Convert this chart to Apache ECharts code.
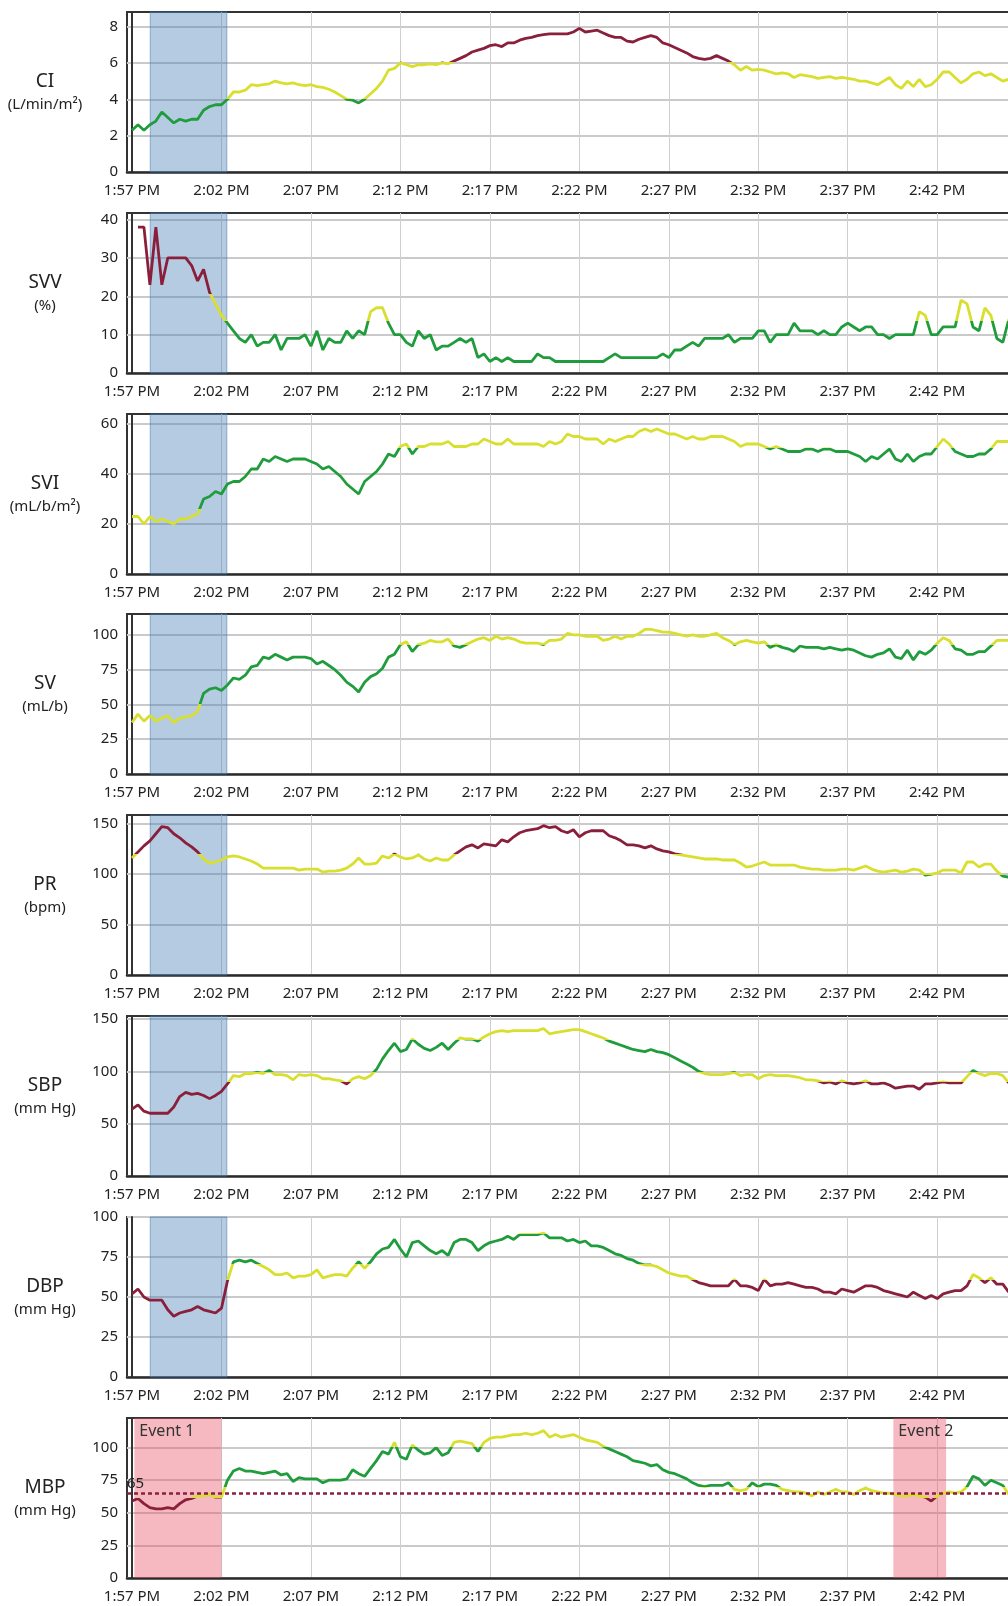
<!DOCTYPE html>
<html>
<head>
<meta charset="utf-8">
<script src="https://cdn.jsdelivr.net/npm/echarts@6/dist/echarts.min.js"></script>
<style>
html, body { margin: 0; padding: 0; background: #fff; }
#main { width: 1008px; height: 1606px; }
</style>
</head>
<body>
<div id="main"></div>
<script>
// x is minutes after 1:57 PM, one sample every 20 s
var tickMinutes = [0, 5, 10, 15, 20, 25, 30, 35, 40, 45];
var tickLabels = ['1:57 PM', '2:02 PM', '2:07 PM', '2:12 PM', '2:17 PM', '2:22 PM', '2:27 PM', '2:32 PM', '2:37 PM', '2:42 PM'];

var ci = [2.3,2.6,2.3,2.6,2.8,3.3,3.0,2.7,2.9,2.8, 2.9,2.9,3.4,3.6,3.7,3.7,4.0,4.4,4.4,4.5,
  4.8,4.75,4.8,4.85,5.0,4.9,4.85,4.9,4.8,4.75, 4.8,4.7,4.65,4.55,4.4,4.2,4.0,3.95,3.8,4.0,
  4.3,4.6,5.0,5.6,5.7,6.0,5.9,5.8,5.9,5.9, 5.95,5.9,6.0,5.95,6.1,6.25,6.4,6.6,6.7,6.8,
  6.95,7.0,6.9,7.1,7.1,7.25,7.35,7.4,7.5,7.55, 7.6,7.6,7.6,7.6,7.7,7.9,7.7,7.75,7.8,7.65,
  7.5,7.4,7.4,7.2,7.15,7.3,7.4,7.5,7.4,7.1, 7.0,6.85,6.7,6.55,6.35,6.25,6.2,6.25,6.4,6.25,
  6.1,5.9,5.6,5.8,5.6,5.65,5.6,5.5,5.4,5.45, 5.4,5.2,5.35,5.3,5.25,5.15,5.2,5.25,5.15,5.2,
  5.15,5.1,5.0,5.0,4.9,4.8,5.0,5.2,4.8,4.6, 5.0,4.7,5.1,4.7,4.8,5.1,5.5,5.5,5.2,4.9,
  5.1,5.4,5.5,5.3,5.4,5.2,5.0,5.1];
var svv = [null,38,38,23,38,23,30,30,30,30, 28,24,27,21,18,15,13,11,9,8,
  10,7,8,8,10,6,9,9,9,10, 7,11,6,9,8,8,11,9,11,10,
  16,17,17,13,10,10,8,7,11,9, 10,6,7,7,8,9,8,9,4,5,
  3,4,3,4,3,3,3,3,5,4, 4,3,3,3,3,3,3,3,3,3,
  4,5,4,4,4,4,4,4,4,5, 4,6,6,7,8,7,9,9,9,9,
  10,8,9,9,9,11,11,8,10,10, 10,13,11,11,11,10,11,10,10,12,
  13,12,11,12,12,10,10,9,10,10, 10,10,16,15,10,10,12,12,12,19,
  18,12,11,17,15,9,8,14];
var svi = [23,23,20,23,21,22,21,20,22,22, 23,24,30,31,33,32,36,37,37,39,
  42,42,46,45,47,46,45,46,46,46, 45,44,42,43,41,39,36,34,32,37,
  39,41,44,48,47,51,52,48,51,51, 52,52,52,53,51,51,51,52,52,54,
  53,52,52,54,52,52,52,52,52,51, 53,52,53,56,55,55,54,54,54,52,
  54,53,54,55,55,57,58,57,58,57, 56,56,55,54,55,54,54,55,55,55,
  54,53,51,52,52,52,51,50,51,50, 49,49,49,50,50,49,50,50,49,49,
  49,48,47,45,47,46,48,50,46,45, 48,45,47,48,48,51,54,52,49,48,
  47,47,48,48,50,53,53,53];
var sv = [37,43,38,42,38,40,42,37,40,41, 42,45,58,61,62,60,64,69,68,71,
  77,78,84,83,86,84,82,84,84,84, 83,79,81,78,75,71,66,63,59,66,
  70,72,76,84,86,93,95,88,93,94, 96,95,95,97,92,91,93,95,97,98,
  96,99,97,98,97,95,94,94,94,93, 96,96,97,101,100,100,99,99,99,96,
  97,99,97,99,99,101,104,104,103,102, 102,101,100,99,100,99,99,100,101,98,
  96,93,95,96,95,94,95,91,93,91, 90,88,92,91,91,91,90,91,90,89,
  90,89,87,85,84,86,87,90,84,83, 89,82,88,86,89,94,98,96,90,89,
  86,86,88,88,92,96,96,96];
var pr = [116,122,128,133,140,147,146,140,136,131, 127,122,115,111,112,114,117,118,117,115,
  113,110,106,106,106,106,106,106,104,105, 105,105,102,103,103,104,106,110,116,110,
  110,111,118,116,120,117,115,116,119,115, 113,116,114,114,119,123,127,129,126,130,
  129,128,134,132,137,141,143,144,145,148, 146,147,143,141,144,137,141,143,143,143,
  138,136,133,129,129,128,126,128,125,123, 122,120,119,118,117,116,115,115,115,114,
  114,114,111,107,108,110,112,109,109,109, 109,109,107,106,105,105,104,104,104,105,
  105,104,106,108,105,103,102,103,104,102, 103,105,104,99,100,101,104,104,104,101,
  112,112,107,110,110,103,98,97];
var sbp = [64,68,62,60,60,60,60,66,76,80, 78,79,77,74,77,81,88,96,95,98,
  98,99,98,101,97,97,96,92,97,96, 97,96,93,93,92,91,88,93,95,93,
  96,102,112,120,127,119,121,131,126,122, 120,123,127,121,127,132,131,131,129,133,
  136,138,139,138,139,139,139,139,139,141, 136,137,138,139,140,140,138,136,134,132,
  129,127,125,123,121,120,119,121,119,118, 116,113,110,107,104,100,98,97,97,97,
  98,99,96,97,97,93,96,97,96,96, 96,95,94,92,92,91,89,90,88,91,
  89,88,89,91,88,88,89,87,84,85, 86,86,83,88,88,89,90,89,89,89,
  95,101,98,96,98,98,96,89];
var dbp = [52,55,50,48,48,48,42,38,40,41, 42,44,42,41,40,43,60,72,73,72,
  73,71,69,67,64,64,65,62,63,63, 64,67,62,63,64,64,63,68,72,68,
  72,77,80,81,86,80,75,84,85,82, 79,77,79,76,84,86,86,84,79,82,
  84,85,86,88,86,89,89,89,89,90, 87,87,87,85,86,84,85,82,82,81,
  79,77,76,74,73,71,70,70,69,67, 65,64,63,63,61,59,58,57,57,57,
  57,61,57,57,56,54,61,57,58,58, 59,58,57,56,56,55,53,53,52,55,
  54,53,55,57,57,56,54,53,52,51, 50,53,51,49,51,49,52,53,54,54,
  57,64,62,59,62,58,58,53];
var mbp = [59,61,57,54,53,53,54,53,57,60, 61,63,63,64,62,62,75,82,84,82,
  82,81,80,81,82,79,80,74,77,76, 76,76,73,75,75,75,76,83,80,78,
  84,90,97,95,104,93,91,102,98,95, 96,100,94,96,104,105,104,103,97,104,
  107,108,108,109,110,110,111,110,111,113, 108,110,108,109,110,108,106,105,104,101,
  99,97,95,93,90,89,88,86,87,83, 81,80,78,76,73,71,70,71,71,71,
  73,68,67,68,73,70,72,72,71,68, 67,66,66,65,63,66,64,66,68,66,
  66,64,67,69,67,66,65,65,64,63, 63,64,63,62,59,63,65,66,65,66,
  70,78,76,71,75,73,71,64];

// status zones: [upper bound, colour key]
var ciZones = [[4, 'g'], [6.05, 'y'], [Infinity, 'r']];
var svvZones = [[13.5, 'g'], [20.5, 'y'], [Infinity, 'r']];
var sviZones = [[26, 'y'], [50.3, 'g'], [Infinity, 'y']];
var svZones = [[50, 'y'], [92.5, 'g'], [Infinity, 'y']];
var prZones = [[99.5, 'g'], [119.5, 'y'], [Infinity, 'r']];
var sbpZones = [[89.5, 'r'], [99.5, 'y'], [130.5, 'g'], [Infinity, 'y']];
var dbpZones = [[60.5, 'r'], [70.5, 'y'], [89.5, 'g'], [Infinity, 'y']];
var mbpZones = [[61.5, 'r'], [69.5, 'y'], [100.5, 'g'], [Infinity, 'y']];

var blueBand = [1.02, 5.3];
var events = [['Event 1', 0.13, 5.0], ['Event 2', 42.55, 45.5]];
var mbpTarget = 65;

var colors = { g: '#1f9c3c', y: '#d9df2e', r: '#8a1f3c' };
var FONT = '"Noto Sans", "Liberation Sans", sans-serif';

var panels = [
  { name: 'CI', unit: '(L/min/m²)', values: ci, max: 8.8, ticks: [0, 2, 4, 6, 8], zones: ciZones },
  { name: 'SVV', unit: '(%)', values: svv, max: 41.7, ticks: [0, 10, 20, 30, 40], zones: svvZones },
  { name: 'SVI', unit: '(mL/b/m²)', values: svi, max: 64, ticks: [0, 20, 40, 60], zones: sviZones },
  { name: 'SV', unit: '(mL/b)', values: sv, max: 115, ticks: [0, 25, 50, 75, 100], zones: svZones },
  { name: 'PR', unit: '(bpm)', values: pr, max: 158.6, ticks: [0, 50, 100, 150], zones: prZones },
  { name: 'SBP', unit: '(mm Hg)', values: sbp, max: 153, ticks: [0, 50, 100, 150], zones: sbpZones },
  { name: 'DBP', unit: '(mm Hg)', values: dbp, max: 100, ticks: [0, 25, 50, 75, 100], zones: dbpZones },
  { name: 'MBP', unit: '(mm Hg)', values: mbp, max: 122.7, ticks: [0, 25, 50, 75, 100], zones: mbpZones }
];

var chart = echarts.init(document.getElementById('main'));

var grids = [], xAxes = [], yAxes = [], series = [], visualMaps = [], graphics = [], overlays = [];

panels.forEach(function (p, i) {
  var top = Math.round(12 + i * 200.8);
  // plot runs past the right edge of the page, like the cropped original
  grids.push({
    left: 127, width: 885, top: top, height: 160, outerBoundsMode: 'none',
    show: true, borderColor: '#333', borderWidth: 2
  });
  xAxes.push({
    type: 'value', gridIndex: i, min: -0.28, max: 49.18,
    axisLine: { show: true, onZero: false, lineStyle: { color: '#2a2a2a', width: 2.5 } },
    axisTick: { show: false, customValues: tickMinutes },
    axisLabel: {
      customValues: tickMinutes, margin: 11, fontSize: 15, fontFamily: FONT, color: '#222',
      formatter: function (v) { var k = tickMinutes.indexOf(v); return k < 0 ? '' : tickLabels[k]; }
    },
    splitLine: { show: true, lineStyle: { color: '#cfcfcf', width: 1 } }
  });
  yAxes.push({
    type: 'value', gridIndex: i, min: 0, max: p.max,
    axisLine: { show: true, lineStyle: { color: '#333', width: 2 } },
    axisTick: { show: false, customValues: p.ticks },
    axisLabel: { customValues: p.ticks, margin: 9, fontSize: 15, fontFamily: FONT, color: '#222' },
    splitLine: { show: true, lineStyle: { color: '#cacaca', width: 2 } }
  });
  series.push({
    type: 'line', xAxisIndex: i, yAxisIndex: i, z: 2,
    showSymbol: false, symbol: 'none', silent: true,
    lineStyle: { width: 2.8 },
    data: p.values.map(function (v, k) { return [k / 3, v]; })
  });
  var pieces = [], lo = -Infinity;
  p.zones.forEach(function (zn) {
    var piece = { color: colors[zn[1]] };
    if (lo !== -Infinity) piece.gte = lo;
    if (zn[0] !== Infinity) piece.lt = zn[0];
    pieces.push(piece);
    lo = zn[0];
  });
  visualMaps.push({ type: 'piecewise', show: false, dimension: 1, seriesIndex: i, pieces: pieces });

  graphics.push({
    type: 'text', x: 45, y: top + 70,
    style: { text: p.name, fontSize: 19, fontFamily: FONT, fill: '#222', align: 'center', verticalAlign: 'middle' }
  });
  graphics.push({
    type: 'text', x: 45, y: top + 93,
    style: { text: p.unit, fontSize: 15, fontFamily: FONT, fill: '#222', align: 'center', verticalAlign: 'middle' }
  });

  if (p.name !== 'MBP') {
    overlays.push({
      type: 'line', xAxisIndex: i, yAxisIndex: i, z: 5, silent: true, data: [],
      markArea: {
        silent: true,
        itemStyle: { color: 'rgba(70,125,180,0.4)', borderColor: 'rgba(70,125,180,0.55)', borderWidth: 1 },
        data: [[{ xAxis: blueBand[0] }, { xAxis: blueBand[1] }]]
      }
    });
  } else {
    overlays.push({
      type: 'line', xAxisIndex: i, yAxisIndex: i, z: 5, silent: true, data: [],
      markArea: {
        silent: true,
        itemStyle: { color: 'rgba(235,80,100,0.4)' },
        label: { show: true, position: 'insideTopLeft', distance: 5, fontSize: 16, fontFamily: FONT, color: '#333' },
        data: events.map(function (e) { return [{ name: e[0], xAxis: e[1] }, { xAxis: e[2] }]; })
      }
    });
    overlays.push({
      type: 'line', xAxisIndex: i, yAxisIndex: i, z: 6, silent: true, data: [],
      markLine: {
        silent: true, symbol: 'none', animation: false,
        lineStyle: { color: '#8b2040', type: [4, 3], width: 2.5 },
        label: { show: true, position: 'insideStartTop', distance: [0, 2], formatter: String(mbpTarget), fontSize: 15, fontFamily: FONT, color: '#222' },
        data: [{ yAxis: mbpTarget }]
      }
    });
  }
});

chart.setOption({
  animation: false,
  backgroundColor: '#fff',
  grid: grids,
  xAxis: xAxes,
  yAxis: yAxes,
  visualMap: visualMaps,
  series: series.concat(overlays),
  graphic: graphics
});
</script>
</body>
</html>
